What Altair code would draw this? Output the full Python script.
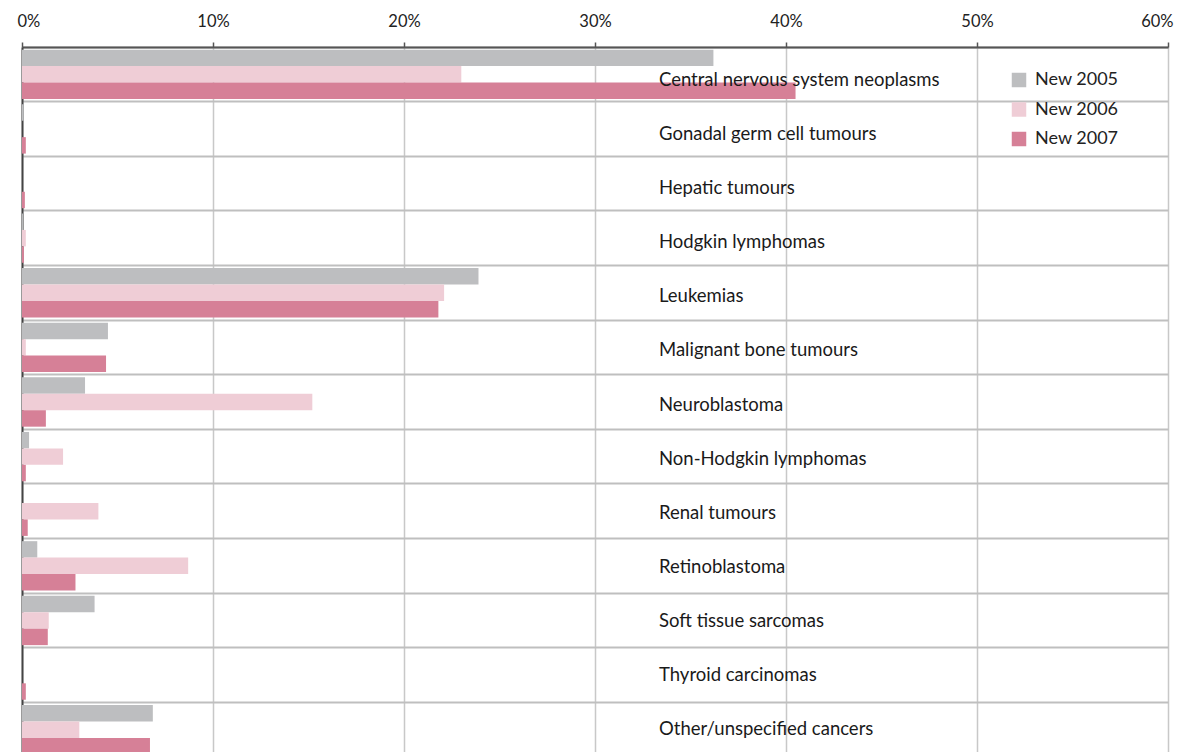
import altair as alt
import pandas as pd

categories = [
    "Central nervous system neoplasms",
    "Gonadal germ cell tumours",
    "Hepatic tumours",
    "Hodgkin lymphomas",
    "Leukemias",
    "Malignant bone tumours",
    "Neuroblastoma",
    "Non-Hodgkin lymphomas",
    "Renal tumours",
    "Retinoblastoma",
    "Soft tissue sarcomas",
    "Thyroid carcinomas",
    "Other/unspecified cancers",
]
years = ["New 2005", "New 2006", "New 2007"]
v2005 = [36.2, 0.08, 0.0, 0.05, 23.9, 4.5, 3.3, 0.37, 0.0, 0.8, 3.8, 0.0, 6.85]
v2006 = [23.0, 0.0, 0.0, 0.2, 22.1, 0.2, 15.2, 2.15, 4.0, 8.7, 1.4, 0.0, 3.0]
v2007 = [40.5, 0.2, 0.15, 0.1, 21.8, 4.4, 1.25, 0.2, 0.3, 2.8, 1.35, 0.2, 6.7]
tick_values = [0, 0.1, 0.2, 0.3, 0.4, 0.5, 0.6]
colors = ["#bdbec0", "#efcdd6", "#d68097"]
LABEL_POS = 0.3335

rows = []
for yr, vals in zip(years, [v2005, v2006, v2007]):
    for c, v in zip(categories, vals):
        rows.append({"category": c, "year": yr, "value": v / 100.0})
df = pd.DataFrame(rows)
labels_df = pd.DataFrame({"category": categories})

FONT = "Lato"

yenc = alt.Y(
    "category:N",
    sort=categories,
    scale=alt.Scale(paddingInner=0, paddingOuter=0),
    axis=alt.Axis(
        title=None, labels=False, ticks=False, domain=True,
        domainColor="#444444", domainWidth=2,
        grid=True, gridColor="#bfbfbf", gridWidth=2, bandPosition=0,
    ),
)

xenc = alt.X(
    "value:Q",
    scale=alt.Scale(domain=[0, 0.6], nice=False),
    axis=alt.Axis(
        orient="top", title=None, values=tick_values, format=".0%",
        labelFont=FONT, labelFontSize=16.5, labelColor="#222222", labelPadding=13,
        labelFlush=True, labelFlushOffset=5,
        tickSize=5, tickColor="#555555", tickWidth=1.5,
        domainColor="#555555", domainWidth=2,
        grid=True, gridColor="#c8c8c8", gridWidth=1.5,
    ),
)

bars = alt.Chart(df).mark_bar(cornerRadius=0).encode(
    x=xenc,
    y=yenc,
    yOffset=alt.YOffset("year:N", sort=years,
                        scale=alt.Scale(paddingInner=0, paddingOuter=0.16)),
    color=alt.Color(
        "year:N", sort=years,
        scale=alt.Scale(domain=years, range=colors),
        legend=alt.Legend(
            title=None, orient="none", legendX=988, legendY=24,
            symbolType="square", symbolSize=210, symbolStrokeWidth=0,
            labelFont=FONT, labelFontSize=18, labelColor="#222222",
            rowPadding=11.5, padding=0, labelOffset=7,
        ),
    ),
)

texts = alt.Chart(labels_df).mark_text(
    align="left", baseline="middle", dy=0, font=FONT, fontSize=18.5, color="#1a1a1a"
).encode(
    x=alt.X(datum=LABEL_POS),
    y=alt.Y("category:N", sort=categories,
            scale=alt.Scale(range=[6, 709], paddingInner=0, paddingOuter=0),
            axis=None),
    text="category:N",
)

chart = alt.layer(bars, texts).resolve_scale(y="independent").properties(
    width=1146,
    height=710,
    autosize=alt.AutoSizeParams(type="none"),
    padding={"left": 14, "top": 39, "right": 10, "bottom": 5},
).configure_view(stroke=None).configure(background="white")

chart.save("out.html", embed_options={"renderer": "svg", "actions": False})
